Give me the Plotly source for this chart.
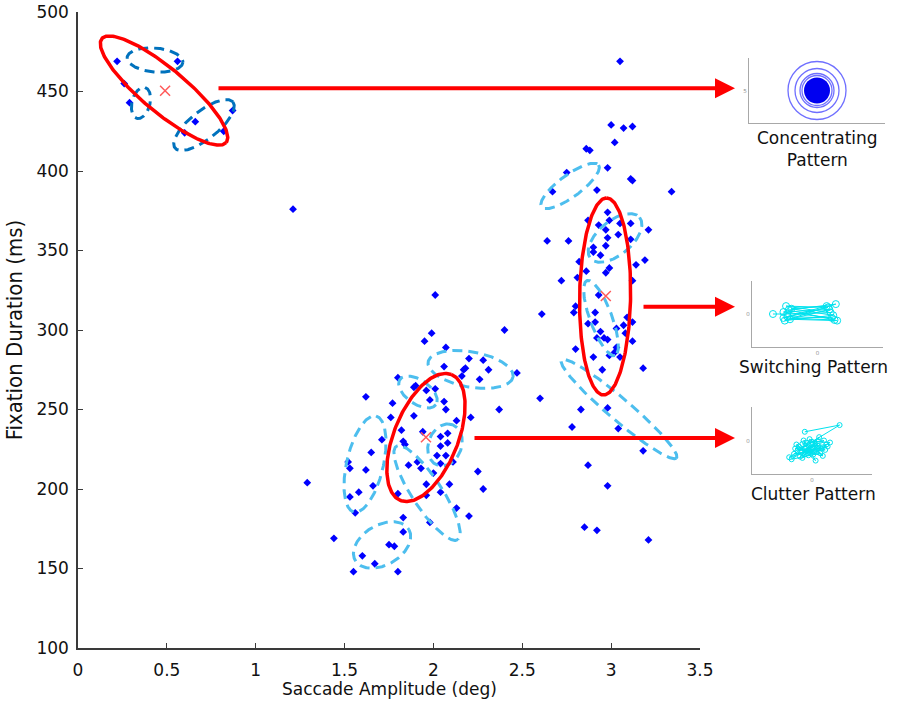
import numpy as np
import plotly.graph_objects as go

# ---------------- data (saccade amplitude in deg, fixation duration in ms) ----------------
ul_amp = [0.22, 0.56, 0.26, 0.29, 0.87, 0.66, 0.82, 0.60]
ul_dur = [469, 469, 455, 443, 438, 431, 425, 424]

other_amp = [1.21, 1.29, 1.44, 2.61, 2.60]
other_dur = [376, 204, 169, 310, 257]

mid_amp = [2.01, 1.99, 1.95, 2.40, 2.07, 2.20, 2.28, 2.18, 2.17, 2.31, 2.06, 2.47,
           2.16, 2.26, 1.80, 1.89, 1.90, 1.96, 2.01, 1.62, 1.98, 2.06, 1.77, 2.07,
           2.37, 1.76, 1.89, 2.21, 2.13, 1.82, 1.94, 2.08, 1.71, 1.83, 1.84, 2.04,
           2.08, 2.04, 2.02, 2.07, 1.65, 1.86, 1.91, 2.04, 2.11, 1.52, 1.53, 1.62,
           1.93, 2.00, 2.25, 1.66, 1.96, 2.04, 2.09, 2.28, 1.80, 1.58, 1.53, 1.96,
           1.56, 2.13, 2.20, 1.83, 1.98, 1.83, 1.75, 1.78, 1.60, 1.67, 1.55, 1.80]
mid_dur = [322, 298, 293, 300, 289, 282, 281, 276, 275, 275, 277, 273,
           271, 269, 270, 264, 265, 262, 263, 258, 256, 255, 254, 250,
           250, 245, 246, 245, 243, 237, 236, 235, 231, 230, 228, 233,
           229, 227, 221, 221, 223, 215, 217, 216, 217, 217, 213, 212,
           213, 210, 211, 202, 203, 198, 203, 200, 197, 198, 195, 196,
           185, 188, 183, 182, 179, 173, 165, 164, 158, 153, 148, 148]

right_amp = [3.05, 3.00, 3.07, 3.12, 3.02, 2.86, 2.88, 2.98, 2.75, 3.11, 3.12, 2.67,
             2.92, 3.34, 2.98, 2.87, 2.93, 2.99, 3.05, 3.11, 2.97, 3.21, 3.04, 2.98,
             2.64, 2.76, 3.11, 2.90, 2.97, 2.90, 2.94, 3.19, 3.14, 2.82, 2.99, 2.86,
             2.97, 2.72, 3.12, 2.81, 2.93, 2.80, 2.79, 2.91, 2.87, 2.91, 2.94, 3.09,
             3.12, 3.07, 3.03, 3.08, 2.96, 2.98, 2.92, 3.12, 2.80, 3.03, 3.02, 2.99,
             2.90, 3.05, 2.95, 3.18, 2.83, 2.98, 2.78, 3.04, 3.18, 2.87, 2.98, 2.85,
             2.92, 3.21]
right_dur = [469, 429, 427, 428, 418, 414, 413, 402, 399, 395, 394, 387,
             388, 387, 374, 369, 366, 369, 367, 367, 363, 363, 360, 358,
             356, 356, 357, 352, 353, 349, 347, 344, 341, 343, 339, 337,
             336, 331, 331, 333, 322, 315, 311, 311, 304, 305, 299, 308,
             305, 303, 301, 298, 295, 294, 295, 293, 288, 289, 286, 284,
             283, 283, 275, 276, 250, 251, 239, 238, 224, 215, 202, 176,
             174, 168]

# Gaussian component ellipses: centre (amp, dur) + two half-axis vectors (amp, dur)
red_ellipses = [
    (0.484, 450.6, 0.3496, -32.65, -0.0794, -10.61),
    (1.958, 232.4, 0.1435, 39.6, 0.167, -7.55),
    (2.966, 321.1, 0.0084, 61.95, 0.1435, 0.0),
]
blue_ellipses = [
    (0.433, 469.8, 0.157, -1.53, -0.0059, -7.52),
    (0.3545, 442.8, 0.0225, 9.75, 0.049, -1.38),
    (0.709, 428.9, 0.163, 14.47, 0.049, -6.92),
]
cyan_ellipses = [
    (2.209, 275.2, 0.239, -4.72, -0.0173, -10.95),
    (1.615, 215.7, 0.0619, 30.19, 0.1007, -2.58),
    (1.964, 197.5, 0.1728, -29.37, -0.0705, -5.17),
    (1.913, 261.0, 0.1013, -7.94, -0.0388, -6.17),
    (2.065, 227.7, 0.017, 13.2, 0.0957, 0.0),
    (1.711, 164.8, 0.151, 9.75, 0.0563, -10.9),
    (2.769, 390.6, 0.1604, 13.2, 0.0366, -5.57),
    (3.022, 357.9, 0.1379, 12.95, 0.0613, -8.18),
    (2.943, 307.5, 0.0788, -23.58, -0.058, -2.42),
    (3.044, 250.3, 0.3236, -30.82, -0.0402, -5.27),
]
center_amp = [0.49, 1.958, 2.97]
center_dur = [450.5, 232.5, 321.4]

# arrows (fixation duration level of each arrow) and inset labels
arrow_dur = [452.0, 314.6, 232.1]
pattern_labels = ["Concentrating<br>Pattern", "Switching Pattern", "Clutter Pattern"]

# inset contents (inset-local units 0..100)
conc_size = [58, 44, 34, 30]
sw_x = [16, 27, 60, 26, 58, 24, 63, 28, 64, 25, 62, 30, 57, 27, 61, 24, 59, 29, 65]
sw_y = [50, 50, 52, 62, 60, 44, 41, 56, 65, 40, 48, 58, 62, 46, 44, 53, 57, 42, 40]
cl_x = [44, 73, 50, 38, 55, 47, 60, 42, 52, 35, 58, 48, 45, 62, 40, 53, 33, 57, 49, 43,
        65, 51, 39, 46, 56, 31, 54, 41, 61, 47, 36, 59, 50, 44, 55, 42, 63, 48, 53, 37]
cl_y = [63, 73, 48, 35, 42, 28, 50, 45, 33, 30, 38, 52, 40, 44, 26, 46, 22, 31, 37, 50,
        47, 29, 41, 34, 55, 25, 39, 32, 36, 43, 38, 27, 44, 30, 49, 24, 41, 35, 20, 44]

# ---------------- figure ----------------
FONT = "DejaVu Sans, Verdana, sans-serif"
RED = "#ff0000"
CYAN = "#4DBEEE"
MBLUE = "#0072BD"
INSET_CYAN = "rgb(0,226,238)"

fig = go.Figure()

fig.add_trace(go.Scatter(
    x=ul_amp + other_amp + mid_amp + right_amp,
    y=ul_dur + other_dur + mid_dur + right_dur,
    mode="markers",
    marker=dict(symbol="diamond", size=6, color="#0000ff"),
    showlegend=False, hoverinfo="skip"))

t = np.linspace(0, 2 * np.pi, 241)


def ellipse(e):
    cx, cy, ux, uy, vx, vy = e
    return (cx + ux * np.cos(t) + vx * np.sin(t),
            cy + uy * np.cos(t) + vy * np.sin(t))


for e in cyan_ellipses:
    ex, ey = ellipse(e)
    fig.add_trace(go.Scatter(x=ex, y=ey, mode="lines", showlegend=False, hoverinfo="skip",
                             line=dict(color=CYAN, width=3, dash="10px,6px")))
for e in blue_ellipses:
    ex, ey = ellipse(e)
    fig.add_trace(go.Scatter(x=ex, y=ey, mode="lines", showlegend=False, hoverinfo="skip",
                             line=dict(color=MBLUE, width=3, dash="10px,6px")))
for e in red_ellipses:
    ex, ey = ellipse(e)
    fig.add_trace(go.Scatter(x=ex, y=ey, mode="lines", showlegend=False, hoverinfo="skip",
                             line=dict(color=RED, width=3.5)))

fig.add_trace(go.Scatter(x=center_amp, y=center_dur, mode="markers", showlegend=False,
                         marker=dict(symbol="x-thin-open", size=10, color="rgb(255,90,90)",
                                     line=dict(width=1.5, color="rgb(255,90,90)"))))

# ---- insets ----
fig.add_trace(go.Scatter(x=[50] * len(conc_size), y=[50] * len(conc_size), mode="markers",
                         xaxis="x2", yaxis="y2", showlegend=False,
                         marker=dict(symbol="circle-open", size=conc_size, color="rgb(50,50,255)",
                                     line=dict(width=1.3, color="rgb(50,50,255)"))))
fig.add_trace(go.Scatter(x=[50], y=[50], mode="markers", xaxis="x2", yaxis="y2", showlegend=False,
                         marker=dict(symbol="circle", size=26, color="rgb(0,0,240)")))
fig.add_trace(go.Scatter(x=sw_x, y=sw_y, mode="lines+markers", xaxis="x3", yaxis="y3",
                         showlegend=False, line=dict(color=INSET_CYAN, width=1),
                         marker=dict(symbol="circle-open", size=7, color=INSET_CYAN,
                                     line=dict(width=1, color=INSET_CYAN))))
fig.add_trace(go.Scatter(x=cl_x, y=cl_y, mode="lines+markers", xaxis="x4", yaxis="y4",
                         showlegend=False, line=dict(color=INSET_CYAN, width=1),
                         marker=dict(symbol="circle-open", size=5, color=INSET_CYAN,
                                     line=dict(width=1, color=INSET_CYAN))))

W, H = 900, 702
ML, MR, MT, MB = 78, 0, 12, 54
PW, PH = W - ML - MR, H - MT - MB


def px_x(p):
    return (p - ML) / PW


def px_y(p):
    return (H - MB - p) / PH


main_axis = dict(showline=True, linecolor="#3a3a3a", linewidth=1.5, ticks="inside",
                 ticklen=5, tickwidth=1.2, tickcolor="#3a3a3a", showgrid=False,
                 zeroline=False, mirror=False, automargin=False,
                 tickfont=dict(family=FONT, size=17, color="#111"))

inset_axis = dict(showline=True, linecolor="#a8a8a8", linewidth=1, showgrid=False,
                  zeroline=False, ticks="", range=[0, 100], fixedrange=True,
                  tickvals=[50], tickfont=dict(size=6, color="#888"), automargin=False)

fig.update_layout(
    width=W, height=H,
    margin=dict(l=ML, r=MR, t=MT, b=MB),
    paper_bgcolor="white", plot_bgcolor="white",
    showlegend=False,
    xaxis=dict(main_axis, domain=[0, px_x(700)], range=[0, 3.5], dtick=0.5,
               ticklabelstandoff=6),
    yaxis=dict(main_axis, domain=[0, 1], range=[100, 500], dtick=50,
               ticklabelstandoff=4,
               title=dict(text="Fixation Duration (ms)", standoff=8,
                          font=dict(family="Liberation Sans Narrow, DejaVu Sans Condensed, Arial Narrow, sans-serif",
                                    size=22, color="#111"))),
    xaxis2=dict(inset_axis, domain=[px_x(749), px_x(885)], anchor="y2", ticktext=[""]),
    yaxis2=dict(inset_axis, domain=[px_y(123), px_y(58)], anchor="x2", ticktext=["5"]),
    xaxis3=dict(inset_axis, domain=[px_x(752), px_x(883)], anchor="y3", ticktext=["0"]),
    yaxis3=dict(inset_axis, domain=[px_y(347), px_y(281)], anchor="x3", ticktext=["0"]),
    xaxis4=dict(inset_axis, domain=[px_x(752), px_x(872)], anchor="y4", ticktext=["0"]),
    yaxis4=dict(inset_axis, domain=[px_y(474), px_y(407)], anchor="x4", ticktext=["0"]),
)

# x-axis title (placed as paper annotation so it can sit right at the bottom edge)
fig.add_annotation(x=px_x(389), y=px_y(689), xref="paper", yref="paper",
                   text="Saccade Amplitude (deg)", showarrow=False,
                   xanchor="center", yanchor="middle", borderpad=0,
                   font=dict(family=FONT, size=17, color="#111"))

arrow_tail = [-518, -93, -262]
for yv, axo in zip(arrow_dur, arrow_tail):
    fig.add_annotation(x=px_x(735), y=yv, xref="paper", yref="y", ax=axo, ay=0,
                       axref="pixel", ayref="pixel", text="", showarrow=True,
                       arrowhead=2, arrowsize=1, arrowwidth=4, arrowcolor=RED)

label_pos = [(817, 148.5), (813, 367), (813, 494)]
for txt, (lx, ly) in zip(pattern_labels, label_pos):
    fig.add_annotation(x=px_x(lx), y=px_y(ly), xref="paper", yref="paper", text=txt,
                       showarrow=False, xanchor="center", yanchor="middle",
                       font=dict(family=FONT, size=17, color="#111"))

fig.write_html("out.html", config={"displayModeBar": False},
               post_script="document.body.style.margin='0';document.body.style.padding='0';")
